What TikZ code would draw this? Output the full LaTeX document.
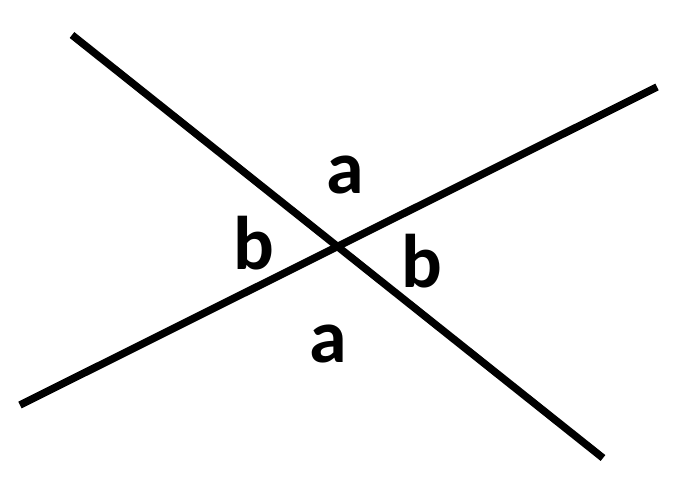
\documentclass[tikz,border=0pt]{standalone}
\usepackage{fontspec}
\setmainfont{Carlito}
\begin{document}
\begin{tikzpicture}[x=1pt,y=-1pt,
  trait/.style={line width=7.5pt},
  lettre/.style={inner sep=0pt,font=\fontsize{76}{76}\selectfont\bfseries}]
\useasboundingbox (0,0) rectangle (684,500);
\coordinate (A1) at (72,35);
\coordinate (A2) at (603,458);
\coordinate (B1) at (20,405);
\coordinate (B2) at (657,87);
\draw [trait] (A1)--(A2);
\draw [trait] (B1)--(B2);

\node [lettre] (ahaut) at (345,175) {a};
\node [lettre] (bgauche) at (254,243) {b};
\node [lettre] (bdroite) at (422,261) {b};
\node [lettre] (abas) at (328,344) {a};

\end{tikzpicture}
\end{document}
